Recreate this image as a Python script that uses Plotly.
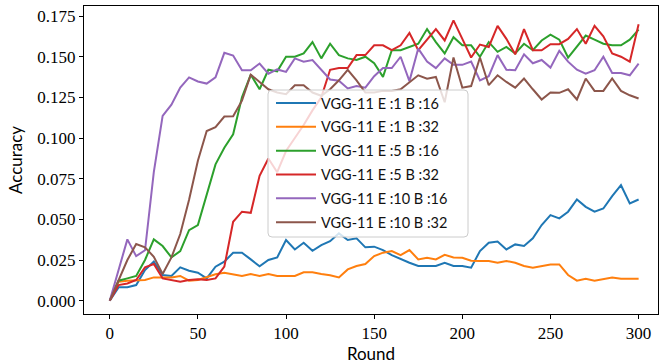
import plotly.graph_objects as go

rounds = list(range(0, 301, 5))

acc_e1_b16 = [0, 0.0082, 0.0082, 0.0096, 0.0188, 0.024, 0.0158, 0.0152, 0.0205, 0.0184,
              0.0172, 0.0137, 0.0209, 0.024, 0.0295, 0.0295, 0.0254, 0.0211, 0.025, 0.0266,
              0.0373, 0.0315, 0.0356, 0.0307, 0.0342, 0.0366, 0.0414, 0.0373, 0.0383, 0.0328,
              0.0332, 0.0311, 0.028, 0.0254, 0.0233, 0.0213, 0.0213, 0.0213, 0.0233, 0.0213,
              0.0213, 0.0203, 0.0305, 0.0356, 0.0364, 0.0315, 0.0346, 0.0336, 0.0383, 0.0465,
              0.0526, 0.0506, 0.0547, 0.0622, 0.0577, 0.0547, 0.0567, 0.0643, 0.071, 0.0598,
              0.0622]
acc_e1_b32 = [0, 0.0117, 0.0123, 0.0127, 0.0127, 0.0143, 0.0143, 0.0143, 0.0152, 0.0123,
              0.0127, 0.0143, 0.0162, 0.0172, 0.0164, 0.0152, 0.0164, 0.0152, 0.0164, 0.0152,
              0.0152, 0.0152, 0.0174, 0.0174, 0.0164, 0.0156, 0.0143, 0.0192, 0.0213, 0.0225,
              0.0274, 0.0295, 0.0305, 0.028, 0.0311, 0.0254, 0.0264, 0.0254, 0.0282, 0.0266,
              0.0264, 0.0246, 0.0244, 0.0244, 0.0233, 0.0244, 0.0233, 0.0213, 0.0203, 0.0213,
              0.0223, 0.0223, 0.0158, 0.0123, 0.0135, 0.0123, 0.0135, 0.0143, 0.0135, 0.0135,
              0.0135]
acc_e5_b16 = [0, 0.0123, 0.0137, 0.0152, 0.025, 0.0377, 0.0336, 0.0266, 0.0305, 0.0434,
              0.0465, 0.066, 0.0838, 0.094, 0.1023, 0.125, 0.139, 0.130, 0.142, 0.141,
              0.150, 0.150, 0.152, 0.159, 0.149, 0.158, 0.151, 0.149, 0.148, 0.150,
              0.146, 0.1376, 0.154, 0.154, 0.156, 0.158, 0.167, 0.159, 0.152, 0.162,
              0.157, 0.157, 0.150, 0.159, 0.153, 0.156, 0.152, 0.158, 0.154, 0.160,
              0.1636, 0.1605, 0.1495, 0.156, 0.163, 0.1605, 0.158, 0.157, 0.157, 0.1605,
              0.1667]
acc_e5_b32 = [0, 0.0096, 0.0106, 0.0127, 0.0205, 0.0225, 0.0137, 0.0127, 0.0117, 0.0127,
              0.0131, 0.0127, 0.0137, 0.0209, 0.0485, 0.0547, 0.054, 0.0768, 0.0874, 0.079,
              0.092, 0.100, 0.108, 0.117, 0.125, 0.142, 0.143, 0.143, 0.151, 0.151,
              0.157, 0.157, 0.154, 0.157, 0.1646, 0.154, 0.1605, 0.167, 0.160, 0.1724,
              0.161, 0.1495, 0.1575, 0.156, 0.169, 0.161, 0.1515, 0.167, 0.154, 0.154,
              0.1577, 0.1577, 0.161, 0.167, 0.158, 0.169, 0.1626, 0.152, 0.150, 0.147,
              0.170]
acc_e10_b16 = [0, 0.019, 0.0377, 0.0274, 0.031, 0.079, 0.1136, 0.1205, 0.131, 0.1373,
               0.1348, 0.1335, 0.1373, 0.1524, 0.1507, 0.1417, 0.1417, 0.1458, 0.1396, 0.1422,
               0.1407, 0.149, 0.147, 0.148, 0.142, 0.136, 0.1352, 0.1305, 0.132, 0.131,
               0.138, 0.143, 0.143, 0.150, 0.135, 0.155, 0.147, 0.143, 0.149, 0.145,
               0.145, 0.147, 0.1355, 0.138, 0.151, 0.142, 0.1417, 0.1515, 0.146, 0.148,
               0.1433, 0.1536, 0.147, 0.142, 0.1396, 0.1417, 0.150, 0.140, 0.140, 0.1386,
               0.1458]
acc_e10_b32 = [0, 0.012, 0.025, 0.0348, 0.0328, 0.027, 0.0164, 0.0266, 0.041, 0.062,
               0.086, 0.1043, 0.1067, 0.1132, 0.1134, 0.123, 0.139, 0.1345, 0.130, 0.128,
               0.127, 0.1325, 0.1325, 0.128, 0.126, 0.130, 0.1355, 0.142, 0.1355, 0.128,
               0.128, 0.129, 0.129, 0.130, 0.1345, 0.1386, 0.1365, 0.1376, 0.122, 0.1495,
               0.131, 0.132, 0.1495, 0.1325, 0.1386, 0.1345, 0.131, 0.1366, 0.130, 0.1237,
               0.128, 0.1278, 0.130, 0.1237, 0.1366, 0.129, 0.129, 0.1366, 0.129, 0.1263,
               0.1243]

series_names = ["VGG-11 E :1 B :16", "VGG-11 E :1 B :32", "VGG-11 E :5 B :16",
                "VGG-11 E :5 B :32", "VGG-11 E :10 B :16", "VGG-11 E :10 B :32"]
series_values = [acc_e1_b16, acc_e1_b32, acc_e5_b16, acc_e5_b32, acc_e10_b16, acc_e10_b32]
colors = ["#1f77b4", "#ff7f0e", "#2ca02c", "#d62728", "#9467bd", "#8c564b"]

x_ticks = [0, 50, 100, 150, 200, 250, 300]
y_ticks = [0.0, 0.025, 0.05, 0.075, 0.1, 0.125, 0.15, 0.175]

fig = go.Figure()
for name, vals, c in zip(series_names, series_values, colors):
    fig.add_trace(go.Scatter(x=rounds, y=vals, mode="lines", name=name,
                             legendgroup=name,
                             line=dict(color=c, width=2)))

W, H = 660, 364
ml, mr, mt, mb = 84, 2, 6, 50
pw, ph = W - ml - mr, H - mt - mb

def px_to_paper(px, py):
    return (px - ml) / pw, (H - mb - py) / ph

# rounded legend frame (semi-transparent like matplotlib)
lx0, ly0 = px_to_paper(268, 90)
lx1, ly1 = px_to_paper(468, 237)
rx, ry = 4 / pw, 4 / ph
path = (f"M {lx0+rx},{ly0} L {lx1-rx},{ly0} Q {lx1},{ly0} {lx1},{ly0-ry} "
        f"L {lx1},{ly1+ry} Q {lx1},{ly1} {lx1-rx},{ly1} L {lx0+rx},{ly1} "
        f"Q {lx0},{ly1} {lx0},{ly1+ry} L {lx0},{ly0-ry} Q {lx0},{ly0} {lx0+rx},{ly0} Z")
fig.add_shape(type="path", path=path, xref="paper", yref="paper", layer="above",
              fillcolor="rgba(255,255,255,0.8)", line=dict(color="#cccccc", width=1))

legx, legy = px_to_paper(271, 87)
fig.update_layout(
    width=W, height=H,
    margin=dict(l=ml, r=mr, t=mt, b=mb, pad=0),
    paper_bgcolor="white", plot_bgcolor="white",
    font=dict(family="Lato", size=14, color="black"),
    showlegend=True,
    legend=dict(x=legx, y=legy, xanchor="left", yanchor="top",
                bgcolor="rgba(0,0,0,0)", borderwidth=0,
                font=dict(family="Lato", size=14.5, color="#111111"),
                tracegroupgap=2, itemwidth=40),
    xaxis=dict(range=[-14.6, 311], tickmode="array", tickvals=x_ticks,
               ticks="outside", ticklen=4, tickwidth=1, tickcolor="black",
               showline=True, linecolor="black", linewidth=1, mirror=True,
               showgrid=False, zeroline=False,
               tickfont=dict(family="Liberation Serif", size=17, color="black"),
               title=dict(text="Round", font=dict(family="Lato", size=17), standoff=8)),
    yaxis=dict(range=[-0.0082, 0.1812], tickmode="array", tickvals=y_ticks,
               tickformat=".3f",
               ticks="outside", ticklen=4, tickwidth=1, tickcolor="black",
               showline=True, linecolor="black", linewidth=1, mirror=True,
               showgrid=False, zeroline=False,
               tickfont=dict(family="Liberation Serif", size=17, color="black"),
               title=dict(text="Accuracy", font=dict(family="Lato", size=17), standoff=10)),
)

fig.write_html("out.html")
